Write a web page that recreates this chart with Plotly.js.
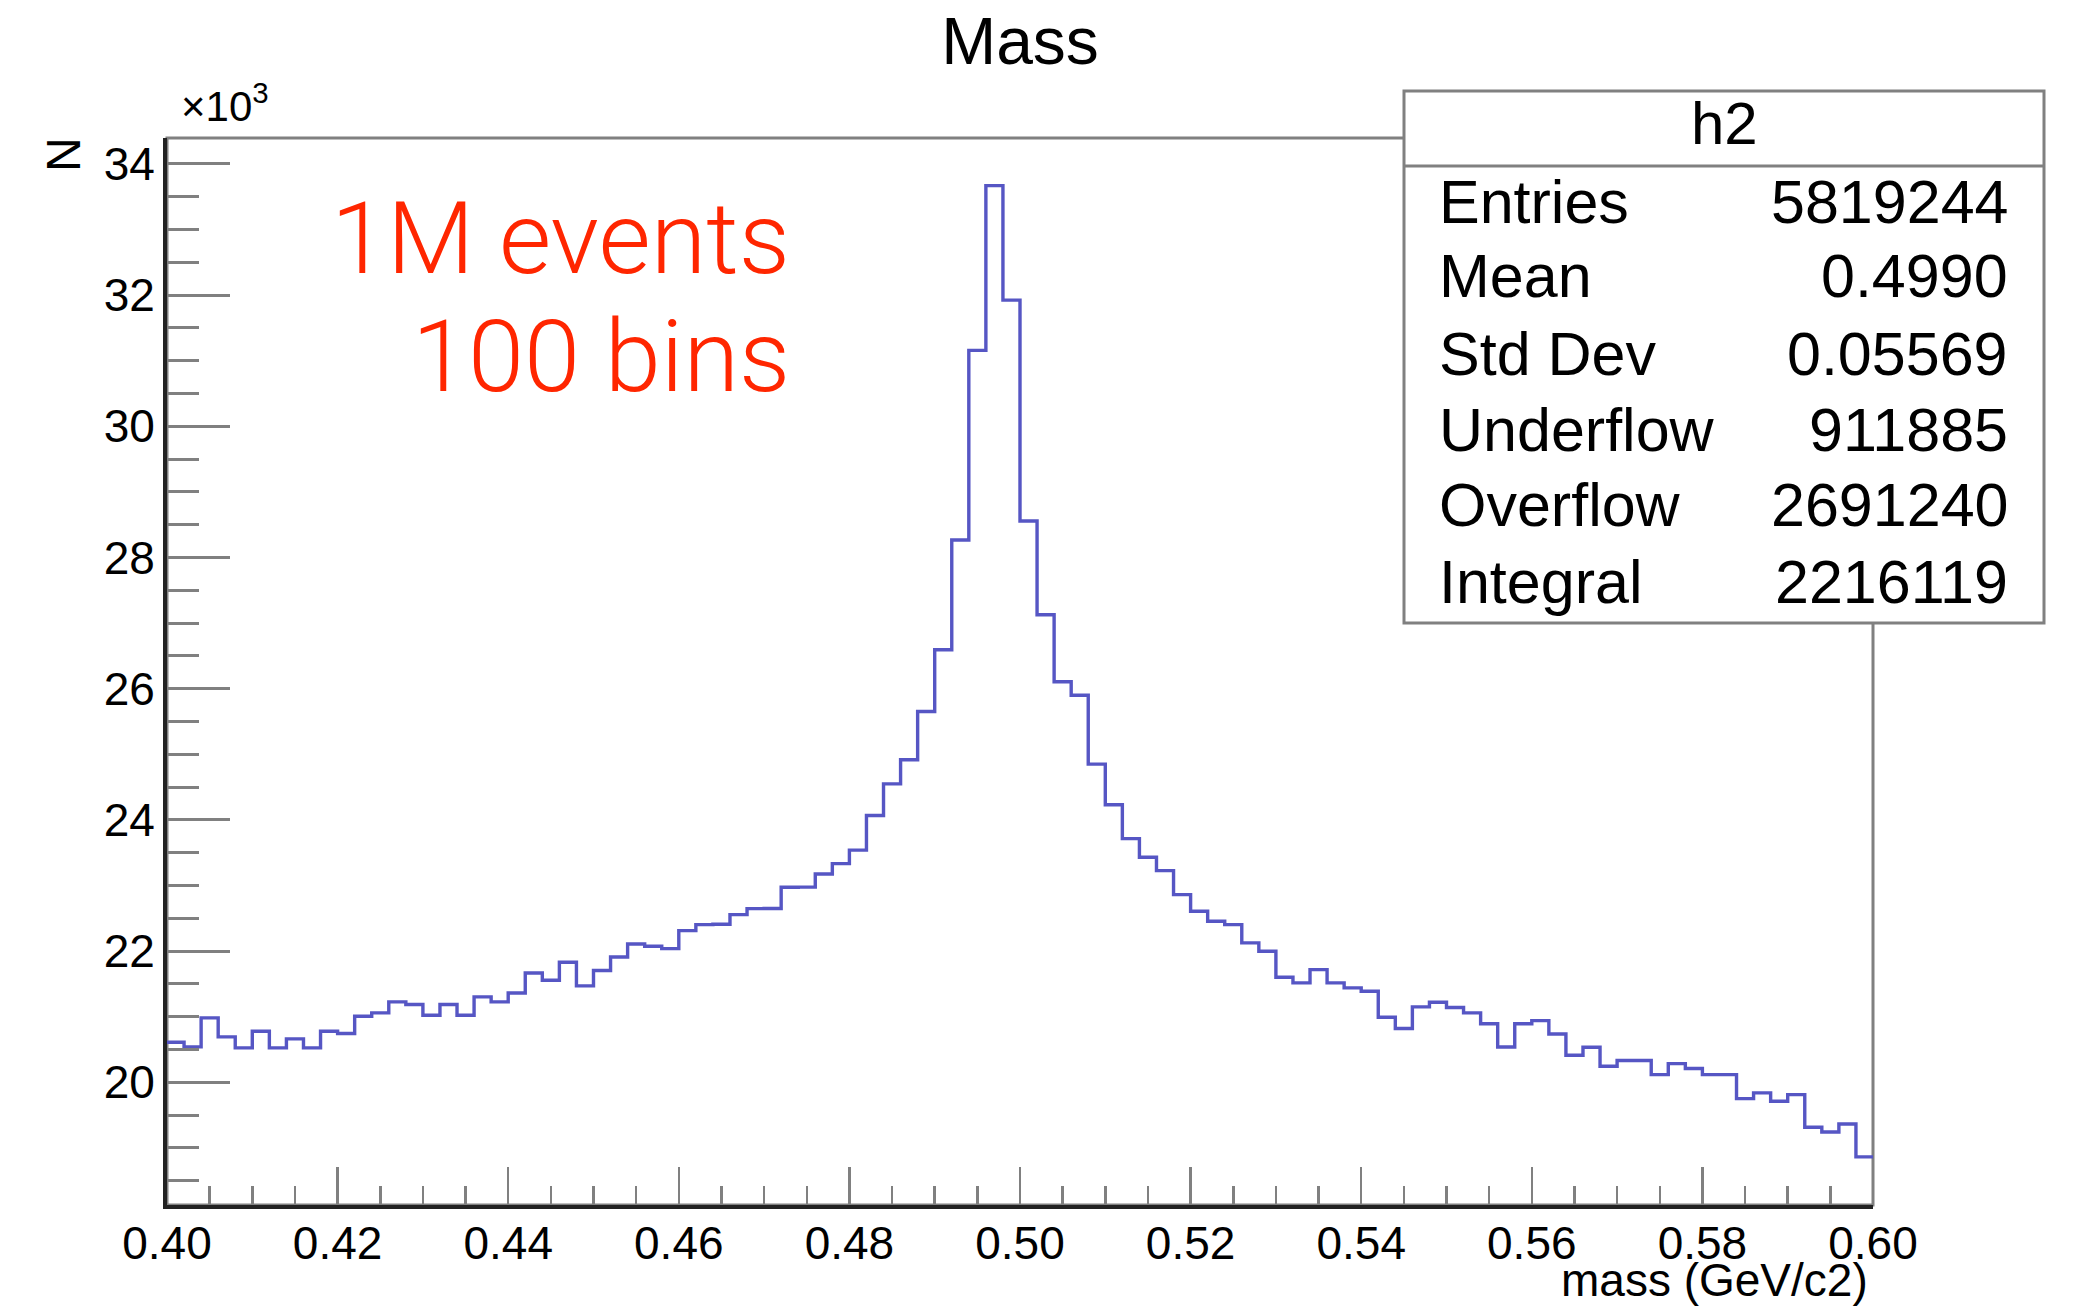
<!DOCTYPE html>
<html>
<head>
<meta charset="utf-8">
<script src="https://cdn.plot.ly/plotly-3.0.1.min.js"></script>
<style>
  html, body { margin: 0; padding: 0; background: #ffffff; }
  #chart { width: 2074px; height: 1308px; }
</style>
</head>
<body>
<div id="chart"></div>
<script>
// ---- Data ----
const binLow = 0.40;
const binHigh = 0.60;
const counts = [
  20611, 20540, 20982, 20692, 20524, 20777, 20524, 20662, 20524, 20778,
  20743, 21007, 21058, 21225, 21185, 21022, 21185, 21022, 21302, 21225,
  21362, 21667, 21556, 21830, 21470, 21705, 21911, 22109, 22074, 22038,
  22312, 22404, 22410, 22556, 22648, 22650, 22973, 22975, 23176, 23334,
  23540, 24066, 24549, 24918, 25652, 26595, 28268, 31158, 33670, 31925,
  28556, 27127, 26106, 25900, 24850, 24230, 23715, 23430, 23227, 22861,
  22607, 22455, 22404, 22125, 21998, 21601, 21515, 21718, 21515, 21439,
  21388, 20992, 20819, 21149, 21220, 21140, 21058, 20893, 20537, 20893,
  20940, 20737, 20412, 20534, 20244, 20331, 20331, 20117, 20285, 20209,
  20117, 20117, 19751, 19838, 19711, 19812, 19314, 19243, 19365, 18862
];
const xTickLabels = ["0.40","0.42","0.44","0.46","0.48","0.50","0.52","0.54","0.56","0.58","0.60"];
const yTickLabels = ["20","22","24","26","28","30","32","34"];
const statLabels = ["Entries", "Mean", "Std Dev", "Underflow", "Overflow", "Integral"];
const statValues = ["5819244", "0.4990", "0.05569", "911885", "2691240", "2216119"];
const histName = "h2";
const titleText = "Mass";
const xTitle = "mass (GeV/c2)";
const yTitle = "N";
const noteLines = ["1M events", "100 bins"];

// ---- Build histogram outline from bins ----
const nBins = counts.length;
const binW = (binHigh - binLow) / nBins;
const xEdges = counts.map((_, i) => binLow + i * binW);
xEdges.push(binHigh);
const yK = counts.map(c => c / 1000);
yK.push(yK[yK.length - 1]);

const xTickVals = xTickLabels.map(Number);
const yTickVals = yTickLabels.map(Number);

// ---- Geometry helpers (pixel -> paper) ----
const W = 2074, H = 1308;
const mL = 167, mR = 201, mT = 138, mB = 103;
const pw = W - mL - mR, ph = H - mT - mB;
const px = x => (x - mL) / pw;
const py = y => (H - mB - y) / ph;

const fontMain = "Liberation Sans, Arial, Helvetica, sans-serif";
const gray = "#808080";

const annotations = [];
// y title "N"
annotations.push({xref:'paper', yref:'paper', x: px(63), y: py(155), text: yTitle, showarrow:false,
  textangle: -90, xanchor:'center', yanchor:'middle', font:{family: fontMain, size: 48, color:'#000'}});
// x10^3
annotations.push({xref:'paper', yref:'paper', x: px(179), y: py(103), text: "×10<sup>3</sup>", showarrow:false,
  xanchor:'left', yanchor:'middle', font:{family: fontMain, size: 42, color:'#000'}});
// x title
annotations.push({xref:'paper', yref:'paper', x: px(1870), y: py(1280), text: xTitle, showarrow:false,
  xanchor:'right', yanchor:'middle', font:{family: fontMain, size: 46, color:'#000'}});
// red notes
const noteBase = [274, 393];
noteLines.forEach((t, i) => {
  annotations.push({xref:'paper', yref:'paper', x: px(792), y: py(noteBase[i] - 36), text: t, showarrow:false,
    xanchor:'right', yanchor:'middle', font:{family: "Roboto, Lato, sans-serif", size: 101, color:'#ff2600', weight: 300}});
});
// stats box text
annotations.push({xref:'paper', yref:'paper', x: px(1724), y: py(124), text: histName, showarrow:false,
  xanchor:'center', yanchor:'middle', font:{family: fontMain, size: 60, color:'#000'}});
const rowBase = [223, 297, 375, 451, 526, 603];
statLabels.forEach((lab, i) => {
  annotations.push({xref:'paper', yref:'paper', x: px(1437), y: py(rowBase[i] - 21), text: lab, showarrow:false,
    xanchor:'left', yanchor:'middle', font:{family: fontMain, size: 61, color:'#000'}});
  annotations.push({xref:'paper', yref:'paper', x: px(2010), y: py(rowBase[i] - 21), text: statValues[i], showarrow:false,
    xanchor:'right', yanchor:'middle', font:{family: fontMain, size: 61, color:'#000'}});
});

const shapes = [
  // frame (top/right gray)
  {type:'rect', xref:'paper', yref:'paper', x0:0, x1:1, y0:0, y1:1, line:{color: gray, width: 3}, layer:'below'},
  // stats box
  {type:'rect', xref:'paper', yref:'paper', x0: px(1404), x1: px(2044), y0: py(623), y1: py(91),
    line:{color: gray, width: 3}, fillcolor:'#ffffff', layer:'above'},
  {type:'line', xref:'paper', yref:'paper', x0: px(1404), x1: px(2044), y0: py(166), y1: py(166),
    line:{color: gray, width: 3}, layer:'above'}
];

const trace = {
  type: 'scatter', mode: 'lines', x: xEdges, y: yK,
  line: {shape: 'hv', color: '#5656c4', width: 3.4},
  hoverinfo: 'skip', showlegend: false
};

const layout = {
  width: W, height: H,
  margin: {l: mL, r: mR, t: mT, b: mB, pad: 0},
  paper_bgcolor: '#ffffff', plot_bgcolor: '#ffffff',
  showlegend: false,
  title: {text: titleText, x: 0.5, xref: 'paper', xanchor: 'center', y: 1 - 41 / H, yref: 'container', yanchor: 'middle',
    font: {family: fontMain, size: 66, color: '#000'}},
  xaxis: {
    range: [binLow, binHigh], tickmode: 'array', tickvals: xTickVals, ticktext: xTickLabels,
    ticks: 'inside', ticklen: 38, tickwidth: 2.5, tickcolor: gray,
    minor: {ticks: 'inside', ticklen: 19, tickwidth: 2.5, tickcolor: gray, tick0: binLow, dtick: 0.005, showgrid: false},
    showline: true, linecolor: '#222', linewidth: 4, showgrid: false, zeroline: false,
    tickfont: {family: fontMain, size: 46, color: '#000'}, ticklabelstandoff: -5
  },
  yaxis: {
    range: [18.129, 34.396], tickmode: 'array', tickvals: yTickVals, ticktext: yTickLabels,
    ticks: 'inside', ticklen: 63, tickwidth: 3, tickcolor: gray,
    minor: {ticks: 'inside', ticklen: 32, tickwidth: 3, tickcolor: gray, tick0: 18, dtick: 0.5, showgrid: false},
    showline: true, linecolor: '#222', linewidth: 4, showgrid: false, zeroline: false,
    tickfont: {family: fontMain, size: 46, color: '#000'}, ticklabelstandoff: -1
  },
  shapes: shapes,
  annotations: annotations
};

Plotly.newPlot('chart', [trace], layout, {displayModeBar: false, staticPlot: true});
</script>
</body>
</html>
